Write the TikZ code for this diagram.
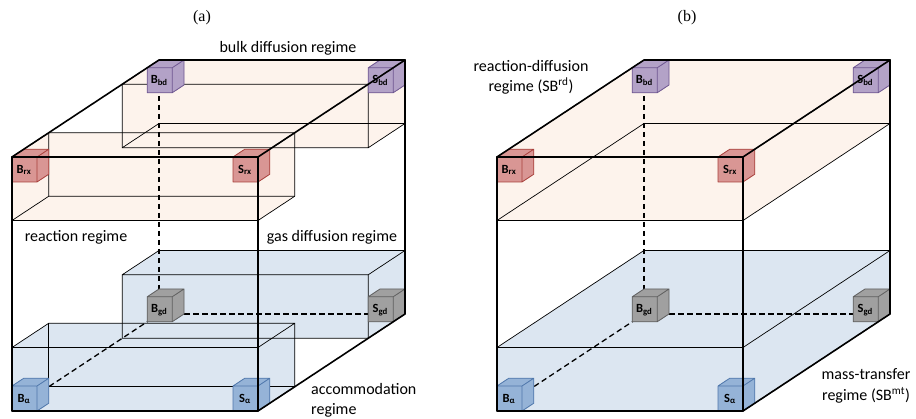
\documentclass[tikz,border=0pt]{standalone}
\usepackage{fontspec}
\setmainfont{Carlito}
\newfontfamily\panelfont{Liberation Serif}
\usetikzlibrary{positioning}

% slab and cube colours
\definecolor{rdfill}{HTML}{FDF3EC}
\definecolor{mtfill}{HTML}{DCE6F1}
\definecolor{rxface}{HTML}{D99694}
\definecolor{rxline}{HTML}{A8403C}
\definecolor{bdface}{HTML}{B3A2C7}
\definecolor{bdline}{HTML}{6E5690}
\definecolor{gdface}{HTML}{A0A0A0}
\definecolor{gdline}{HTML}{5F5F5F}
\definecolor{aface}{HTML}{95B3D7}
\definecolor{aline}{HTML}{4F77AB}

\tikzset{
  outeredge/.style={line width=1.6pt, line cap=round, line join=round},
  slabedge/.style={line width=0.7pt},
  hiddenedge/.style={line width=1.3pt, dash pattern=on 5.5pt off 3.5pt},
  regimelabel/.style={font=\fontsize{16}{20.5}\selectfont, align=center, inner sep=0pt},
  cubelabel/.style={font=\bfseries\fontsize{12.5}{13}\selectfont, inner sep=0pt},
  panellabel/.style={font=\panelfont\fontsize{16}{18}\selectfont, inner sep=0pt}
}

% fill of a slab: bottom, top, front depth, back depth, colour
\newcommand{\slabhull}[5]{%
  \fill[#5] (0,#1,#3) -- (0,#2,#3) -- (0,#2,#4) -- (246,#2,#4)
    -- (246,#1,#4) -- (246,#1,#3) -- cycle;}
% edges of a slab that never fall on a hidden edge of the box
\newcommand{\slabbox}[4]{%
  \draw[slabedge] (0,#1,#3) rectangle (246,#2,#3)
    (0,#2,#4) -- (246,#2,#4) -- (246,#1,#4) -- (246,#1,#3)
    (0,#2,#3) -- (0,#2,#4) (246,#2,#3) -- (246,#2,#4);}
% small cube sitting in a corner: name, corner, face, line, label
\newcommand{\minicube}[5]{%
  \begin{scope}[shift={#2}]
    \filldraw[fill=#3, draw=#4, line width=0.8pt, line join=round]
      (0,0,0) -- (25,0,0) -- (25,25,0) -- (0,25,0) -- cycle
      (0,25,0) -- (25,25,0) -- (25,25,8) -- (0,25,8) -- cycle
      (25,0,0) -- (25,0,8) -- (25,25,8) -- (25,25,0) -- cycle;
    \node[cubelabel] (#1) at (12,12,0) {#5};
  \end{scope}}

\begin{document}
\begin{tikzpicture}[x=1pt, y=1pt, z={(1.47pt,0.97pt)}]
  \useasboundingbox (0,0) rectangle (916,419);

  % ---- panel (a): four separate regimes
  \begin{scope}[shift={(12,8)}]
    % corners of the outer box
    \coordinate (a-fbl) at (0,0,0);
    \coordinate (a-fbr) at (246,0,0);
    \coordinate (a-ftl) at (0,254,0);
    \coordinate (a-ftr) at (246,254,0);
    \coordinate (a-bbl) at (0,0,100);
    \coordinate (a-bbr) at (246,0,100);
    \coordinate (a-btl) at (0,254,100);
    \coordinate (a-btr) at (246,254,100);

    % slabs
    \slabhull{190.5}{254}{75}{100}{rdfill}
    \slabhull{190.5}{254}{0}{25}{rdfill}
    \slabhull{0}{63.5}{75}{100}{mtfill}
    \slabhull{0}{63.5}{0}{25}{mtfill}
    \slabbox{190.5}{254}{75}{100}
    \draw[slabedge] (0,190.5,75) -- (0,190.5,100) -- (246,190.5,100);
    \slabbox{190.5}{254}{0}{25}
    \draw[slabedge] (0,190.5,0) -- (0,190.5,25) -- (0,254,25)
      (0,190.5,25) -- (246,190.5,25);
    \slabbox{0}{63.5}{75}{100}
    \slabbox{0}{63.5}{0}{25}
    \draw[slabedge] (0,63.5,25) -- (0,0,25) -- (246,0,25);

    % hidden edges of the box
    \draw[hiddenedge] (a-btl) -- (a-bbl) -- (a-bbr);
    \draw[hiddenedge] (a-bbl) -- (a-fbl);

    % corner cubes, back ones first
    \minicube{a-Bbd}{(0,229,92)}{bdface}{bdline}{B\textsubscript{bd}}
    \minicube{a-Sbd}{(221,229,92)}{bdface}{bdline}{S\textsubscript{bd}}
    \minicube{a-Bgd}{(0,0,92)}{gdface}{gdline}{B\textsubscript{gd}}
    \minicube{a-Sgd}{(221,0,92)}{gdface}{gdline}{S\textsubscript{gd}}
    \minicube{a-Brx}{(0,229,0)}{rxface}{rxline}{B\textsubscript{rx}}
    \minicube{a-Srx}{(221,229,0)}{rxface}{rxline}{S\textsubscript{rx}}
    \minicube{a-Ba}{(0,0,0)}{aface}{aline}{B\textsubscript{α}}
    \minicube{a-Sa}{(221,0,0)}{aface}{aline}{S\textsubscript{α}}

    % outer box
    \draw[outeredge] (a-fbl) rectangle (a-ftr);
    \draw[outeredge] (a-ftl) -- (a-btl) -- (a-btr) -- (a-ftr);
    \draw[outeredge] (a-btr) -- (a-bbr) -- (a-fbr);
  \end{scope}

  % ---- panel (b): two lumped regimes
  \begin{scope}[shift={(497,8)}]
    \coordinate (b-fbl) at (0,0,0);
    \coordinate (b-fbr) at (246,0,0);
    \coordinate (b-ftl) at (0,254,0);
    \coordinate (b-ftr) at (246,254,0);
    \coordinate (b-bbl) at (0,0,100);
    \coordinate (b-bbr) at (246,0,100);
    \coordinate (b-btl) at (0,254,100);
    \coordinate (b-btr) at (246,254,100);

    \slabhull{190.5}{254}{0}{100}{rdfill}
    \slabhull{0}{63.5}{0}{100}{mtfill}
    \slabbox{190.5}{254}{0}{100}
    \draw[slabedge] (0,190.5,0) -- (0,190.5,100) -- (246,190.5,100);
    \slabbox{0}{63.5}{0}{100}

    \draw[hiddenedge] (b-btl) -- (b-bbl) -- (b-bbr);
    \draw[hiddenedge] (b-bbl) -- (b-fbl);

    \minicube{b-Bbd}{(0,229,92)}{bdface}{bdline}{B\textsubscript{bd}}
    \minicube{b-Sbd}{(221,229,92)}{bdface}{bdline}{S\textsubscript{bd}}
    \minicube{b-Bgd}{(0,0,92)}{gdface}{gdline}{B\textsubscript{gd}}
    \minicube{b-Sgd}{(221,0,92)}{gdface}{gdline}{S\textsubscript{gd}}
    \minicube{b-Brx}{(0,229,0)}{rxface}{rxline}{B\textsubscript{rx}}
    \minicube{b-Srx}{(221,229,0)}{rxface}{rxline}{S\textsubscript{rx}}
    \minicube{b-Ba}{(0,0,0)}{aface}{aline}{B\textsubscript{α}}
    \minicube{b-Sa}{(221,0,0)}{aface}{aline}{S\textsubscript{α}}

    \draw[outeredge] (b-fbl) rectangle (b-ftr);
    \draw[outeredge] (b-ftl) -- (b-btl) -- (b-btr) -- (b-ftr);
    \draw[outeredge] (b-btr) -- (b-bbr) -- (b-fbr);
  \end{scope}

  % labels
  \node[panellabel] (capa) at (202,401) {(a)};
  \node[panellabel] (capb) at (687,401) {(b)};
  \node[regimelabel] (bulk) at (288,371) {bulk diffusion regime};
  \node[regimelabel] (react) at (76,182) {reaction regime};
  \node[regimelabel] (gas) at (332,182) {gas diffusion regime};
  \node[regimelabel, align=left, anchor=west] (accom) at (311,18.5) {accommodation\\regime};
  \node[regimelabel] (rdreg) at (531,341.5) {reaction-diffusion\\regime (SB\textsuperscript{rd})};
  \node[regimelabel] (mtreg) at (866,33) {mass-transfer\\regime (SB\textsuperscript{mt})};
\end{tikzpicture}
\end{document}
